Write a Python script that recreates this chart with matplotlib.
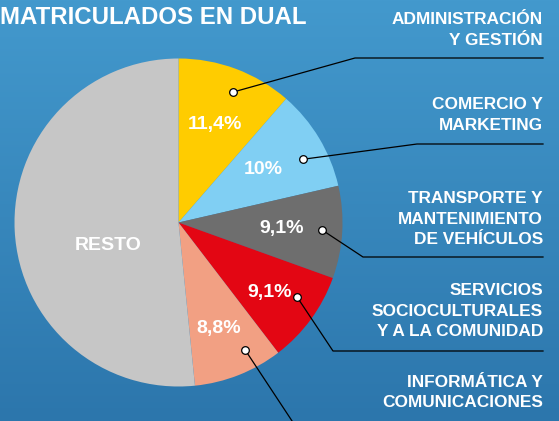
import matplotlib
matplotlib.use("Agg")
import matplotlib.pyplot as plt
import numpy as np

# data
sectors = [["ADMINISTRACIÓN", "Y GESTIÓN"],
           ["COMERCIO Y", "MARKETING"],
           ["TRANSPORTE Y", "MANTENIMIENTO", "DE VEHÍCULOS"],
           ["SERVICIOS", "SOCIOCULTURALES", "Y A LA COMUNIDAD"],
           ["INFORMÁTICA Y", "COMUNICACIONES"],
           ["RESTO"]]
shares = [11.4, 10.0, 9.1, 9.1, 8.8, 51.6]
pct_labels = ["11,4%", "10%", "9,1%", "9,1%", "8,8%", "RESTO"]
colors = ["#FFCC00", "#80CFF3", "#6E6E6E", "#E30613", "#F2A083", "#C6C6C6"]

W, H = 559, 421
FONT = ["Liberation Sans", "DejaVu Sans"]


def py(y):
    # pixel row (top origin) -> data y
    return H - y


fig = plt.figure(figsize=(W / 100, H / 100), dpi=100)
ax = fig.add_axes([0, 0, 1, 1])

# blue background gradient
top = np.array([67, 153, 205]) / 255
bot = np.array([44, 118, 172]) / 255
t = np.linspace(0, 1, 256)[:, None]
grad = top * (1 - t) + bot * t
ax.imshow(grad[:, None, :].repeat(2, axis=1), extent=[0, W, 0, H],
          aspect="auto", zorder=0)

cx, cy, R = 178.5, py(222.5), 164
wedges, _ = ax.pie(shares, colors=colors, startangle=90, counterclock=False,
                   center=(cx, cy), radius=R, frame=True,
                   wedgeprops=dict(linewidth=0, zorder=2))
ax.set_xlim(0, W)
ax.set_ylim(0, H)
ax.set_aspect("equal")
ax.axis("off")

# percentage labels
pct_r = [0.64, 0.61, 0.63, 0.70, 0.69, 0.45]
pct_da = [0, 1, 0, -1.5, -1, 15]
for w, lab, r, da in zip(wedges, pct_labels, pct_r, pct_da):
    a = np.deg2rad((w.theta1 + w.theta2) / 2 + da)
    ax.text(cx + r * R * np.cos(a), cy + r * R * np.sin(a), lab,
            color="white", fontsize=14, fontweight="bold", family=FONT,
            ha="center", va="center", zorder=4)

# leader lines with dots
dot_r = [0.86, 0.85, 0.875, 0.855, 0.875]
dot_da = [-2, -4, 0.5, 4, 6]
elbows = [(355, 58), (417, 144), (363, 257), (333, 351), (298, 430)]
line_end = 543
for w, r, da, (ex, ey) in zip(wedges[:5], dot_r, dot_da, elbows):
    a = np.deg2rad((w.theta1 + w.theta2) / 2 + da)
    dx, dy = cx + r * R * np.cos(a), cy + r * R * np.sin(a)
    xs = [dx, ex, line_end] if ey < H else [dx, ex]
    ys = [dy, py(ey), py(ey)] if ey < H else [dy, py(ey)]
    ax.plot(xs, ys, color="black", lw=0.9, zorder=5)
    ax.plot(dx, dy, "o", ms=5.5, mfc="white", mec="black", mew=0.9, zorder=6)

# sector names on the right, one text per line
name_y = [30, 115, 219, 311, 392.5]
step = 20.8
for lines, yc in zip(sectors[:5], name_y):
    y0 = yc - step * (len(lines) - 1) / 2
    for i, line in enumerate(lines):
        ax.text(line_end, py(y0 + i * step), line, color="white",
                fontsize=12.4, fontweight="bold", family=FONT,
                ha="right", va="center", zorder=4)

ax.text(0.5, py(17), "MATRICULADOS EN DUAL", color="white", fontsize=17.3,
        fontweight="bold", family=FONT, ha="left", va="center", zorder=4)

fig.savefig("out.png", dpi=100)
